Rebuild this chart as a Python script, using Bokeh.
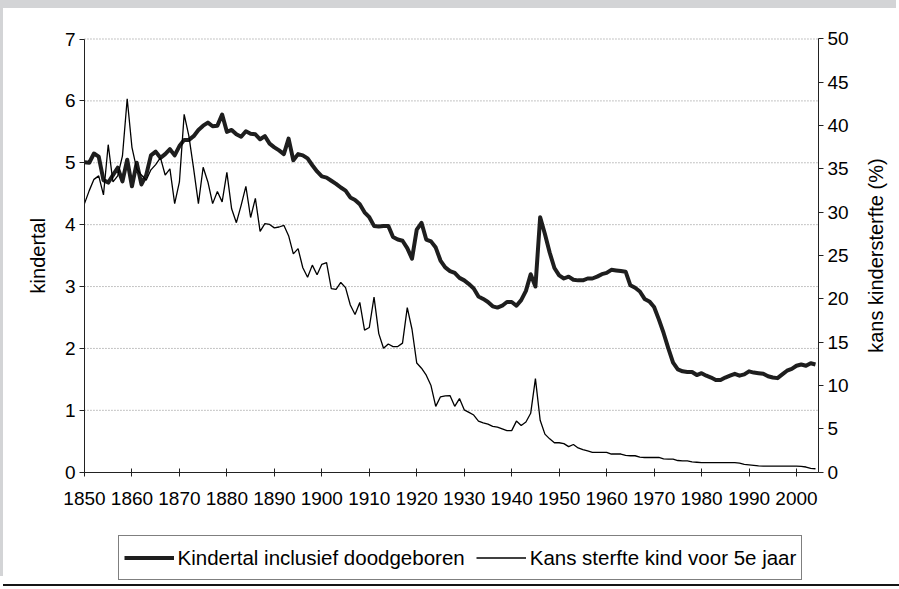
import math
from bokeh.plotting import figure
from bokeh.models import Range1d, LinearAxis, FixedTicker, Legend, LegendItem, Label
from bokeh.embed import file_html
from bokeh.resources import INLINE

years = list(range(1850, 2005))

kindertal = [
    5.01, 5.00, 5.15, 5.10, 4.72, 4.68, 4.80, 4.92, 4.70, 5.05,
    4.62, 5.00, 4.65, 4.80, 5.12, 5.18, 5.08, 5.14, 5.22, 5.12,
    5.27, 5.37, 5.37, 5.43, 5.53, 5.60, 5.65, 5.59, 5.60, 5.78,
    5.50, 5.53, 5.46, 5.42, 5.51, 5.47, 5.46, 5.38, 5.43, 5.31,
    5.25, 5.20, 5.14, 5.39, 5.04, 5.14, 5.12, 5.07, 4.96, 4.86,
    4.78, 4.76, 4.71, 4.66, 4.60, 4.55, 4.44, 4.40, 4.33, 4.20,
    4.12, 3.98, 3.97, 3.98, 3.98, 3.80, 3.76, 3.74, 3.62, 3.45,
    3.92, 4.03, 3.76, 3.73, 3.63, 3.42, 3.31, 3.25, 3.22, 3.14,
    3.10, 3.04, 2.97, 2.84, 2.80, 2.75, 2.68, 2.66, 2.69, 2.75,
    2.75, 2.69, 2.78, 2.93, 3.20, 3.00, 4.12, 3.85, 3.55, 3.30,
    3.18, 3.13, 3.16, 3.11, 3.10, 3.10, 3.13, 3.13, 3.16, 3.20,
    3.22, 3.27, 3.26, 3.25, 3.24, 3.02, 2.98, 2.92, 2.80, 2.76,
    2.67, 2.47, 2.25, 2.00, 1.77, 1.66, 1.63, 1.62, 1.62, 1.57,
    1.60, 1.56, 1.53, 1.49, 1.49, 1.53, 1.56, 1.59, 1.56, 1.58,
    1.63, 1.61, 1.60, 1.59, 1.55, 1.53, 1.52, 1.58, 1.64, 1.67,
    1.72, 1.74, 1.72, 1.76, 1.74,
]

sterfte = [
    31.0, 32.5, 33.8, 34.2, 32.0, 37.8, 33.5, 34.2, 36.5, 43.1,
    37.5, 35.0, 34.3, 33.7, 34.9, 35.5, 36.3, 34.3, 35.0, 31.0,
    33.5, 41.3, 38.8, 35.0, 31.0, 35.2, 33.5, 31.0, 32.4, 31.2,
    34.6, 30.4, 28.8, 30.8, 33.0, 29.4, 31.6, 27.8, 28.7, 28.6,
    28.2, 28.3, 28.5, 27.3, 25.2, 25.8, 23.6, 22.5, 23.9, 22.8,
    24.0, 24.2, 21.2, 21.1, 21.9, 21.3, 19.3, 18.2, 19.6, 16.4,
    16.7, 20.2, 16.0, 14.3, 14.8, 14.5, 14.5, 14.9, 19.0, 16.5,
    12.6, 12.0, 11.2, 10.0, 7.6, 8.7, 8.8, 8.85, 7.6, 8.5,
    7.2, 6.9, 6.6, 5.9, 5.7, 5.55, 5.3, 5.2, 5.0, 4.8,
    4.8, 5.9, 5.4, 5.8, 6.8, 10.8, 6.0, 4.4, 3.85, 3.4,
    3.4, 3.3, 2.95, 3.2, 2.8, 2.6, 2.45, 2.3, 2.3, 2.3,
    2.3, 2.1, 2.1, 2.1, 1.95, 1.9, 1.9, 1.75, 1.7, 1.7,
    1.7, 1.7, 1.55, 1.5, 1.5, 1.35, 1.3, 1.3, 1.2, 1.15,
    1.1, 1.1, 1.1, 1.1, 1.1, 1.1, 1.1, 1.1, 1.05, 0.9,
    0.85, 0.8, 0.72, 0.7, 0.7, 0.7, 0.7, 0.7, 0.7, 0.7,
    0.7, 0.68, 0.6, 0.45, 0.4,
]

x_ticks = list(range(1850, 2001, 10))
left_ticks = [0, 1, 2, 3, 4, 5, 6, 7]
right_ticks = [0, 5, 10, 15, 20, 25, 30, 35, 40, 45, 50]
left_title = "kindertal"
right_title = "kans kindersterfte (%)"
series_names = ["Kindertal inclusief doodgeboren", "Kans sterfte kind voor 5e jaar"]

FONT = "Liberation Sans"
X0, X1 = 1850, 2004.63          # extent of the plotted period (axis positions)
Y0, Y1 = 0, 7
P0, P1 = 0, 50

# The frame fills the figure; the axes are pinned to the data extent so that the
# tick labels, axis titles and the legend all lie inside the frame.
p = figure(width=896, height=576, output_backend="svg", toolbar_location=None,
           x_range=Range1d(1832.94, 2021.70), y_range=Range1d(-1.8146, 7.493),
           min_border_left=0, min_border_right=0, min_border_top=0,
           min_border_bottom=0)
p.outline_line_color = None
p.background_fill_color = "white"
p.border_fill_color = "white"
p.extra_y_ranges = {"pct": Range1d(-12.96, 53.52)}
# grey frame strip at the top/left and the black rule under the figure
p.styles = {"position": "relative", "top": "8px", "left": "3px",
            "box-shadow": "-3px -8px 0 0 #d3d4d6, 0 2px 0 0 #151515"}

p.xgrid.visible = False
p.ygrid.visible = False

# dotted horizontal gridlines at the left-axis ticks, only between the two axes
grid_vals = left_ticks[1:]
p.segment(x0=[X0] * len(grid_vals), x1=[X1] * len(grid_vals), y0=grid_vals, y1=grid_vals,
          line_color="#8a8a8a", line_dash="1 2", line_width=1)

def style_axis(ax):
    ax.axis_line_color = "#222222"
    ax.major_tick_line_color = "#222222"
    ax.minor_tick_line_color = None
    ax.major_label_text_font = FONT
    ax.major_label_text_font_size = "19px"
    ax.major_label_text_color = "black"

xa = p.xaxis[0]
xa.ticker = FixedTicker(ticks=x_ticks)
style_axis(xa)
xa.fixed_location = Y0
xa.bounds = (X0, X1)
xa.major_tick_in = 4
xa.major_tick_out = 4
xa.major_label_standoff = 16

ya = p.yaxis[0]
ya.ticker = FixedTicker(ticks=left_ticks)
style_axis(ya)
ya.fixed_location = X0
ya.bounds = (Y0, Y1)
ya.major_tick_in = 0
ya.major_tick_out = 5
ya.major_label_standoff = 4

ra = LinearAxis(y_range_name="pct", ticker=FixedTicker(ticks=right_ticks), bounds=(P0, P1))
style_axis(ra)
ra.fixed_location = X1
ra.major_tick_in = 0
ra.major_tick_out = 5
ra.major_label_standoff = 4
p.add_layout(ra, "right")

p.add_layout(Label(x=34, y=(Y0 + Y1) / 2, x_units="screen", text=left_title,
                   angle=math.pi / 2, text_align="center", text_baseline="middle",
                   text_font=FONT, text_font_size="20px", text_color="black"))
p.add_layout(Label(x=872, y=(Y0 + Y1) / 2, x_units="screen", text=right_title,
                   angle=math.pi / 2, text_align="center", text_baseline="middle",
                   text_font=FONT, text_font_size="20px", text_color="black"))

r1 = p.line(years, kindertal, line_width=4, line_color="#1e1e1e", line_join="round")
r2 = p.line(years, sterfte, y_range_name="pct", line_width=1.3, line_color="black")

legend = Legend(items=[LegendItem(label=series_names[0], renderers=[r1]),
                       LegendItem(label=series_names[1], renderers=[r2])],
                orientation="horizontal", location=(114.5, 4), margin=0,
                border_line_color="black", border_line_width=1,
                background_fill_color="white", background_fill_alpha=1,
                padding=5, spacing=11, glyph_width=50, glyph_height=33,
                label_height=33, label_standoff=4,
                label_text_font=FONT, label_text_font_size="20.5px",
                label_text_color="black")
p.add_layout(legend, "center")

open("out.html", "w").write(file_html(p, INLINE))
